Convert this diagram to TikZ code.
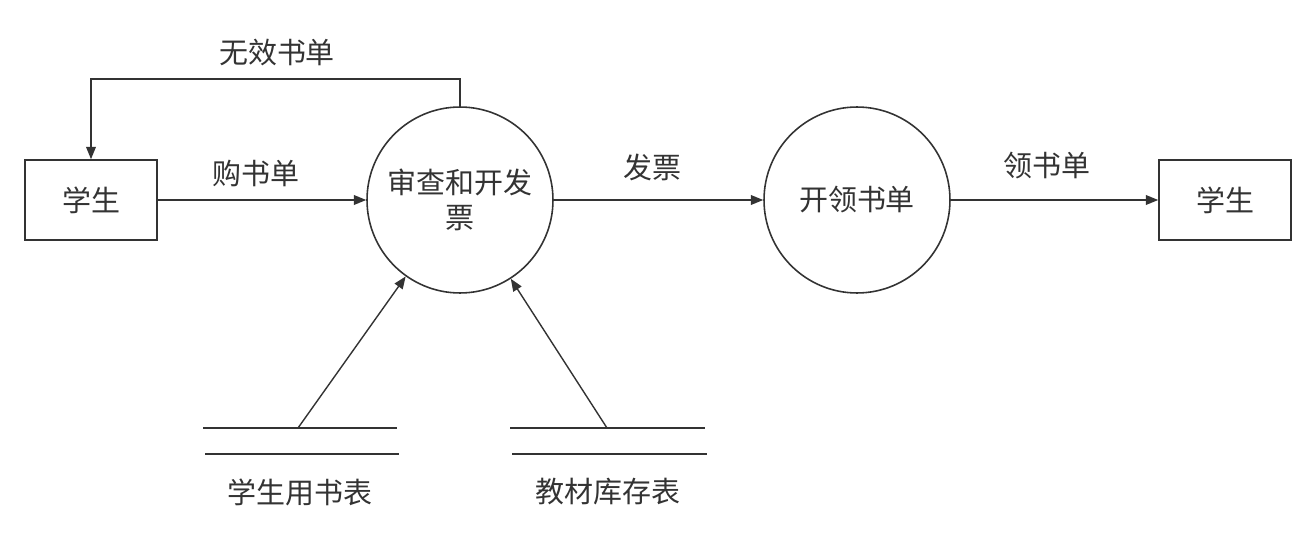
\documentclass[tikz,border=0pt]{standalone}
\usepackage{fontspec}
\setmainfont{Noto Sans CJK SC}
\usepackage{xcolor}
\usetikzlibrary{
    arrows.meta,
    positioning,
    shapes.geometric
}
\definecolor{trazo}{HTML}{333333}
\tikzstyle{flecha} = [-{Triangle[length=7pt,width=5.5pt]}, line width=0.8pt, draw=trazo]
\tikzstyle{entidad} = [draw=trazo, line width=0.9pt, minimum width=2.64cm, minimum height=1.6cm]
\tikzstyle{proceso} = [circle, draw=trazo, line width=0.9pt, minimum size=3.72cm, align=center, inner sep=0pt]
\tikzstyle{almacen} = [draw=trazo, line width=0.8pt]

\begin{document}
\begin{tikzpicture}[x=0.02cm, y=-0.02cm, font=\fontsize{16.5}{20}\selectfont, text=trazo]

\useasboundingbox (0,0) rectangle (1316,544);

% Entidades
\node[entidad] (alumnoA) at (91,200) {学生};
\node[entidad] (alumnoB) at (1225,200) {学生};

% Procesos
\node[proceso] (revisar) at (460,200) {审查和开发\\票};
\node[proceso] (emitir) at (857,200) {开领书单};

% Almacenes
\draw[almacen] (203,428) -- (397,428);
\draw[almacen] (205,454) -- (399,454);
\node (tablaA) at (300,492) {学生用书表};
\coordinate (salidaA) at (298,428);

\draw[almacen] (510,428) -- (705,428);
\draw[almacen] (512,454) -- (707,454);
\node (tablaB) at (608,492) {教材库存表};
\coordinate (salidaB) at (607,428);

% Flujos
\draw[flecha] (alumnoA) -- (revisar) node[pos=0.47, above=4pt] {购书单};
\draw[flecha] (revisar) -- (emitir) node[pos=0.47, above=7pt] {发票};
\draw[flecha] (emitir) -- (alumnoB) node[pos=0.465, above=8pt] {领书单};
\draw[flecha] (salidaA) -- (revisar);
\draw[flecha] (salidaB) -- (revisar);

% Retorno
\coordinate (codo) at (460,79);
\draw[flecha] (revisar.north) -- (codo) -| (alumnoA.north);
\node (invalido) at (277,53) {无效书单};

\end{tikzpicture}
\end{document}
